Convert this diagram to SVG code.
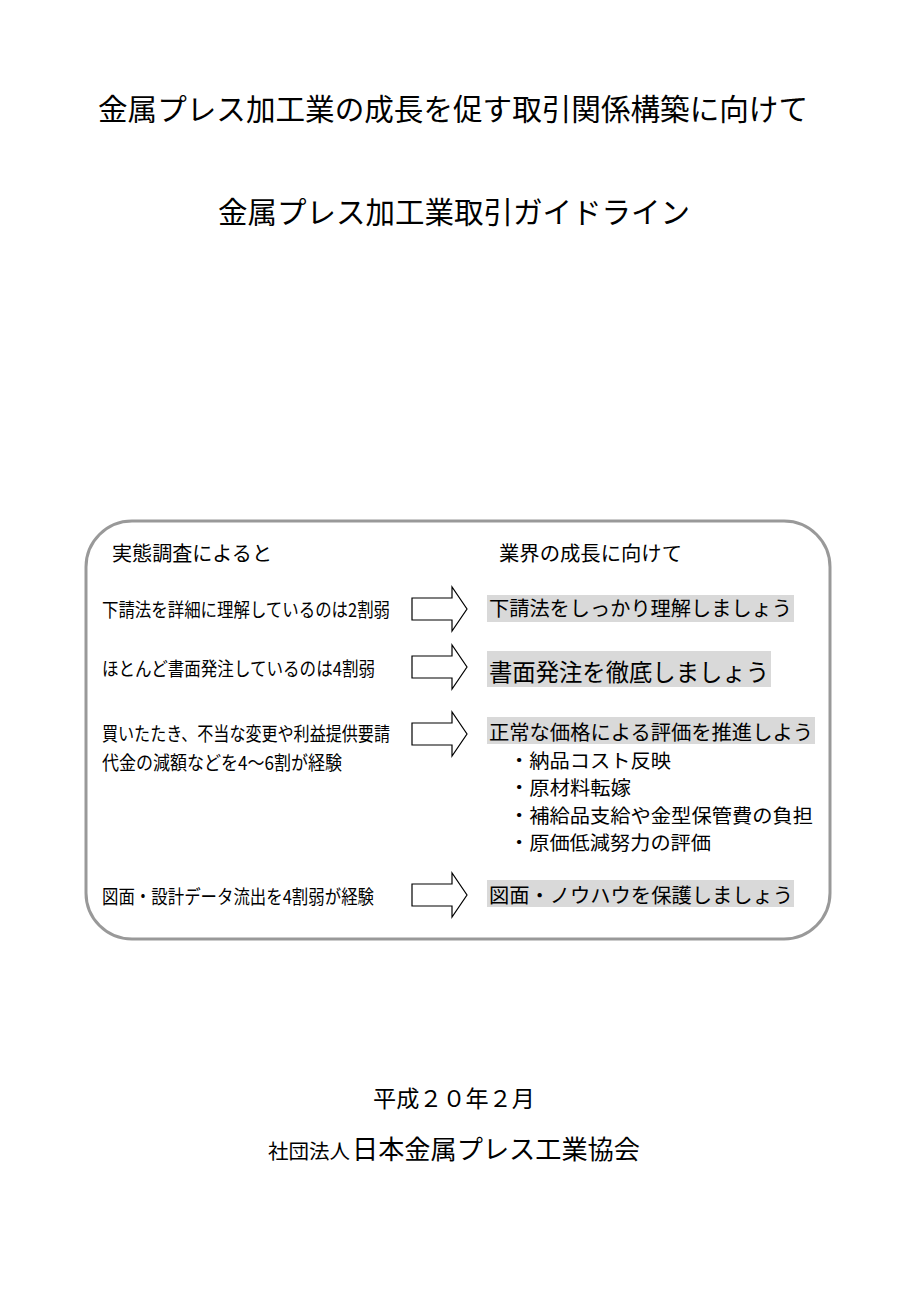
<svg xmlns="http://www.w3.org/2000/svg" width="920" height="1302" viewBox="0 0 920 1302">
<style>
text{font-family:"Noto Sans CJK JP","Liberation Sans",sans-serif;fill:#000;font-weight:400}
.title{font-size:29.5px}
.hdr{font-size:20px}
.left{font-size:19px}
.right{font-size:20px}
.bul{font-size:19px}
.hl{fill:#d9d9d9}
.arrow{fill:#fff;stroke:#000;stroke-width:1.2;stroke-linejoin:miter}
.frame{fill:#fff;stroke:#999;stroke-width:3}
</style>
<defs>
<path id="blockArrow" d="M0,-11 L40,-11 L40,-22 L55,0 L40,22 L40,11 L0,11 Z"/>
</defs>
<rect width="920" height="1302" fill="#fff"/>
<g id="titles">
<text class="title" x="453" y="120" text-anchor="middle" textLength="710" lengthAdjust="spacingAndGlyphs">金属プレス加工業の成長を促す取引関係構築に向けて</text>
<text class="title" x="454" y="223" text-anchor="middle" textLength="472" lengthAdjust="spacingAndGlyphs">金属プレス加工業取引ガイドライン</text>
</g>
<g id="panel">
<rect class="frame" x="86" y="521" width="744" height="418" rx="46" ry="46"/>
<text class="hdr" x="112" y="561" textLength="160" lengthAdjust="spacingAndGlyphs">実態調査によると</text>
<text class="hdr" x="499" y="561" textLength="183" lengthAdjust="spacingAndGlyphs">業界の成長に向けて</text>
</g>
<g id="row1-left"><text class="left" x="102" y="617" textLength="288" lengthAdjust="spacingAndGlyphs">下請法を詳細に理解しているのは2割弱</text></g>
<g id="row1-right">
<rect class="hl" x="487" y="595" width="307" height="27"/>
<text class="right" x="489" y="616" textLength="303" lengthAdjust="spacingAndGlyphs">下請法をしっかり理解しましょう</text>
</g>
<g id="row2-left"><text class="left" x="102" y="676" textLength="273" lengthAdjust="spacingAndGlyphs">ほとんど書面発注しているのは4割弱</text></g>
<g id="row2-right">
<rect class="hl" x="487" y="651" width="284" height="36"/>
<text x="489" y="681" font-size="24" textLength="280" lengthAdjust="spacingAndGlyphs">書面発注を徹底しましょう</text>
</g>
<g id="row3-left">
<text class="left" x="102" y="741" textLength="288" lengthAdjust="spacingAndGlyphs">買いたたき、不当な変更や利益提供要請</text>
<text class="left" x="102" y="770" textLength="240" lengthAdjust="spacingAndGlyphs">代金の減額などを4～6割が経験</text>
</g>
<g id="row3-right">
<rect class="hl" x="487" y="717" width="328" height="27"/>
<text class="right" x="489" y="740" textLength="324" lengthAdjust="spacingAndGlyphs">正常な価格による評価を推進しよう</text>
<text class="bul" x="509" y="768" textLength="162" lengthAdjust="spacingAndGlyphs">・納品コスト反映</text>
<text class="bul" x="509" y="795" textLength="122" lengthAdjust="spacingAndGlyphs">・原材料転嫁</text>
<text class="bul" x="509" y="823" textLength="304" lengthAdjust="spacingAndGlyphs">・補給品支給や金型保管費の負担</text>
<text class="bul" x="509" y="850" textLength="202" lengthAdjust="spacingAndGlyphs">・原価低減努力の評価</text>
</g>
<g id="row4-left"><text class="left" x="102" y="904" textLength="272" lengthAdjust="spacingAndGlyphs">図面・設計データ流出を4割弱が経験</text></g>
<g id="row4-right">
<rect class="hl" x="487" y="880" width="307" height="27"/>
<text class="right" x="489" y="903" textLength="304" lengthAdjust="spacingAndGlyphs">図面・ノウハウを保護しましょう</text>
</g>
<g id="connectors">
<use href="#blockArrow" class="arrow" transform="translate(412,609)"/>
<use href="#blockArrow" class="arrow" transform="translate(412,667)"/>
<use href="#blockArrow" class="arrow" transform="translate(412,734)"/>
<use href="#blockArrow" class="arrow" transform="translate(412,895)"/>
</g>
<g id="footer">
<text x="454" y="1107" font-size="23" text-anchor="middle" textLength="162" lengthAdjust="spacingAndGlyphs">平成２０年２月</text>
<text x="268" y="1159" font-size="20" textLength="82" lengthAdjust="spacingAndGlyphs">社団法人</text>
<text x="352" y="1159" font-size="26" textLength="288" lengthAdjust="spacingAndGlyphs">日本金属プレス工業協会</text>
</g>
</svg>
